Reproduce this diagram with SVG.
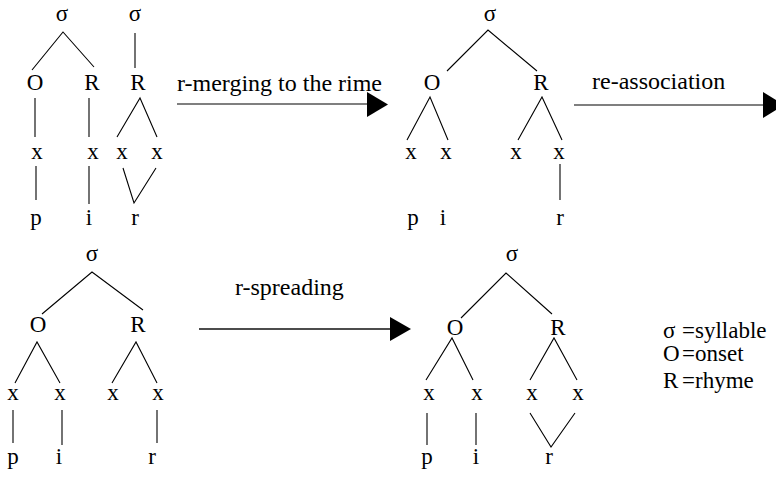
<svg xmlns="http://www.w3.org/2000/svg" width="776" height="478" viewBox="0 0 776 478" font-family="'Liberation Serif', 'Times New Roman', 'DejaVu Serif', serif">
<style>
text{font-family:'Liberation Serif','Times New Roman','DejaVu Serif',serif;font-size:23px;fill:#000}
.c{text-anchor:middle}
.l{font-size:24px}
.t line,.t polyline{stroke:#000;stroke-width:1.1;fill:none}
.a line{stroke:#555;stroke-width:1.6}
.a line.k{stroke:#111;stroke-width:1.3}
.a polygon{fill:#000}
</style>
<rect width="776" height="478" fill="#fff"/>
<g id="tree1">
<g class="c"><text x="62" y="21">σ</text><text x="135" y="21">σ</text>
<text x="35" y="90">O</text><text x="92" y="90">R</text><text x="138" y="90">R</text>
<text x="37" y="159">x</text><text x="93" y="159">x</text><text x="122" y="159">x</text><text x="157" y="159">x</text>
<text x="36" y="225">p</text><text x="89" y="225">i</text><text x="135" y="225">r</text></g>
<g class="t">
<polyline points="32,70 63,32 94,67"/>
<line x1="135" y1="33" x2="135" y2="68"/>
<line x1="35" y1="98" x2="35" y2="137"/>
<line x1="89" y1="98" x2="89" y2="137"/>
<polyline points="117,137 140,98 157,137"/>
<line x1="36" y1="166" x2="36" y2="200"/>
<line x1="89" y1="166" x2="89" y2="204"/>
<polyline points="123,168 134,203 156,168"/>
</g></g>
<g id="tree2">
<g class="c"><text x="490" y="21">σ</text>
<text x="432" y="90">O</text><text x="541" y="90">R</text>
<text x="411" y="159">x</text><text x="446" y="159">x</text><text x="516" y="159">x</text><text x="559" y="159">x</text>
<text x="413" y="225">p</text><text x="443" y="225">i</text><text x="560" y="225">r</text></g>
<g class="t">
<polyline points="447,71 488,30 537,71"/>
<polyline points="407,140 430,97 448,140"/>
<polyline points="518,140 542,97 562,140"/>
<line x1="560" y1="164" x2="560" y2="200"/>
</g></g>
<g id="tree3">
<g class="c"><text x="92" y="261">σ</text>
<text x="38" y="332">O</text><text x="138" y="332">R</text>
<text x="13" y="400">x</text><text x="60" y="400">x</text><text x="113" y="400">x</text><text x="158" y="400">x</text>
<text x="13" y="464">p</text><text x="59" y="464">i</text><text x="152" y="464">r</text></g>
<g class="t">
<polyline points="42,314 92,272 143,310"/>
<polyline points="15,383 37,342 60,383"/>
<polyline points="112,383 136,342 157,383"/>
<line x1="13" y1="410" x2="13" y2="443"/>
<line x1="62" y1="410" x2="62" y2="445"/>
<line x1="157" y1="410" x2="157" y2="443"/>
</g></g>
<g id="tree4">
<g class="c"><text x="512" y="261">σ</text>
<text x="455" y="335">O</text><text x="558" y="335">R</text>
<text x="429" y="400">x</text><text x="477" y="400">x</text><text x="532" y="400">x</text><text x="578" y="400">x</text>
<text x="427" y="464">p</text><text x="476" y="464">i</text><text x="549" y="464">r</text></g>
<g class="t">
<polyline points="461,318 506,273 552,314"/>
<polyline points="426,380 452,338 473,380"/>
<polyline points="530,380 554,338 577,380"/>
<line x1="427" y1="413" x2="427" y2="445"/>
<line x1="476" y1="413" x2="476" y2="445"/>
<polyline points="530,413 551,447 575,413"/>
</g></g>
<g id="legend" class="l">
<text x="663" y="338">σ<tspan x="682">=syllable</tspan></text>
<text x="663" y="361">O<tspan x="682">=onset</tspan></text>
<text x="663" y="388">R<tspan x="682">=rhyme</tspan></text>
</g>
<g id="connectors" class="a">
<text class="l" x="177" y="91">r-merging to the rime</text>
<line x1="177" y1="104" x2="368" y2="104"/>
<polygon points="367,92 388,104.5 367,117"/>
<text class="l" x="592" y="89">re-association</text>
<line x1="574" y1="105" x2="764" y2="105"/>
<polygon points="763,92 784,105 763,118"/>
<text class="l" x="235" y="295">r-spreading</text>
<line class="k" x1="199" y1="329" x2="391" y2="329"/>
<polygon points="390,317 411,329 390,341"/>
</g>
</svg>
